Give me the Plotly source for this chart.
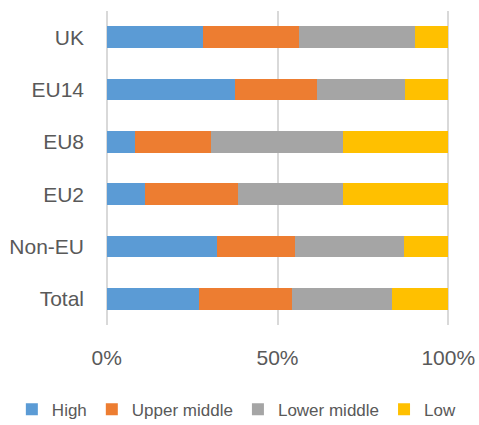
import plotly.graph_objects as go

categories = ["UK", "EU14", "EU8", "EU2", "Non-EU", "Total"]
high = [28.2, 37.6, 8.3, 11.2, 32.3, 27.1]
upper_middle = [28.2, 24.1, 22.2, 27.1, 22.9, 27.0]
lower_middle = [33.9, 25.6, 38.7, 30.9, 31.7, 29.4]
low = [9.7, 12.7, 30.8, 30.8, 13.1, 16.5]
x_ticks = [0, 50, 100]
x_tick_labels = ["0%", "50%", "100%"]

series = [
    ("High", high, "#5B9BD5"),
    ("Upper middle", upper_middle, "#ED7D31"),
    ("Lower middle", lower_middle, "#A5A5A5"),
    ("Low", low, "#FFC000"),
]

fig = go.Figure()
for name, vals, color in series:
    fig.add_trace(go.Bar(
        y=categories, x=vals, name=name, orientation="h",
        marker=dict(color=color, line=dict(width=0)),
    ))

font_family = "Liberation Sans, Arial, sans-serif"
fig.update_layout(
    barmode="stack",
    bargap=0.58,
    width=479, height=425,
    margin=dict(l=105, r=29, t=11, b=100, autoexpand=False),
    paper_bgcolor="white", plot_bgcolor="white",
    font=dict(family=font_family, size=16, color="#595959"),
    xaxis=dict(
        range=[-0.5, 100.5], tickmode="array", tickvals=x_ticks, ticktext=x_tick_labels,
        showgrid=True, gridcolor="#D9D9D9", gridwidth=2,
        zeroline=False, showline=False, ticks="",
        ticklabelstandoff=18, automargin=False,
        tickfont=dict(size=21, color="#595959"),
    ),
    yaxis=dict(
        autorange="reversed", showgrid=False, zeroline=False,
        showline=False, ticks="", ticklabelstandoff=20, automargin=False,
        tickfont=dict(size=21, color="#595959"),
    ),
    legend=dict(
        orientation="h", x=-0.27, xanchor="left", y=-0.27, yanchor="middle",
        font=dict(size=17, color="#595959"), traceorder="normal",
        itemwidth=30, tracegroupgap=0,
    ),
)

fig.write_html(
    "out.html",
    config={"displayModeBar": False},
    post_script="document.body.style.margin='0';document.body.style.overflow='hidden';",
)
